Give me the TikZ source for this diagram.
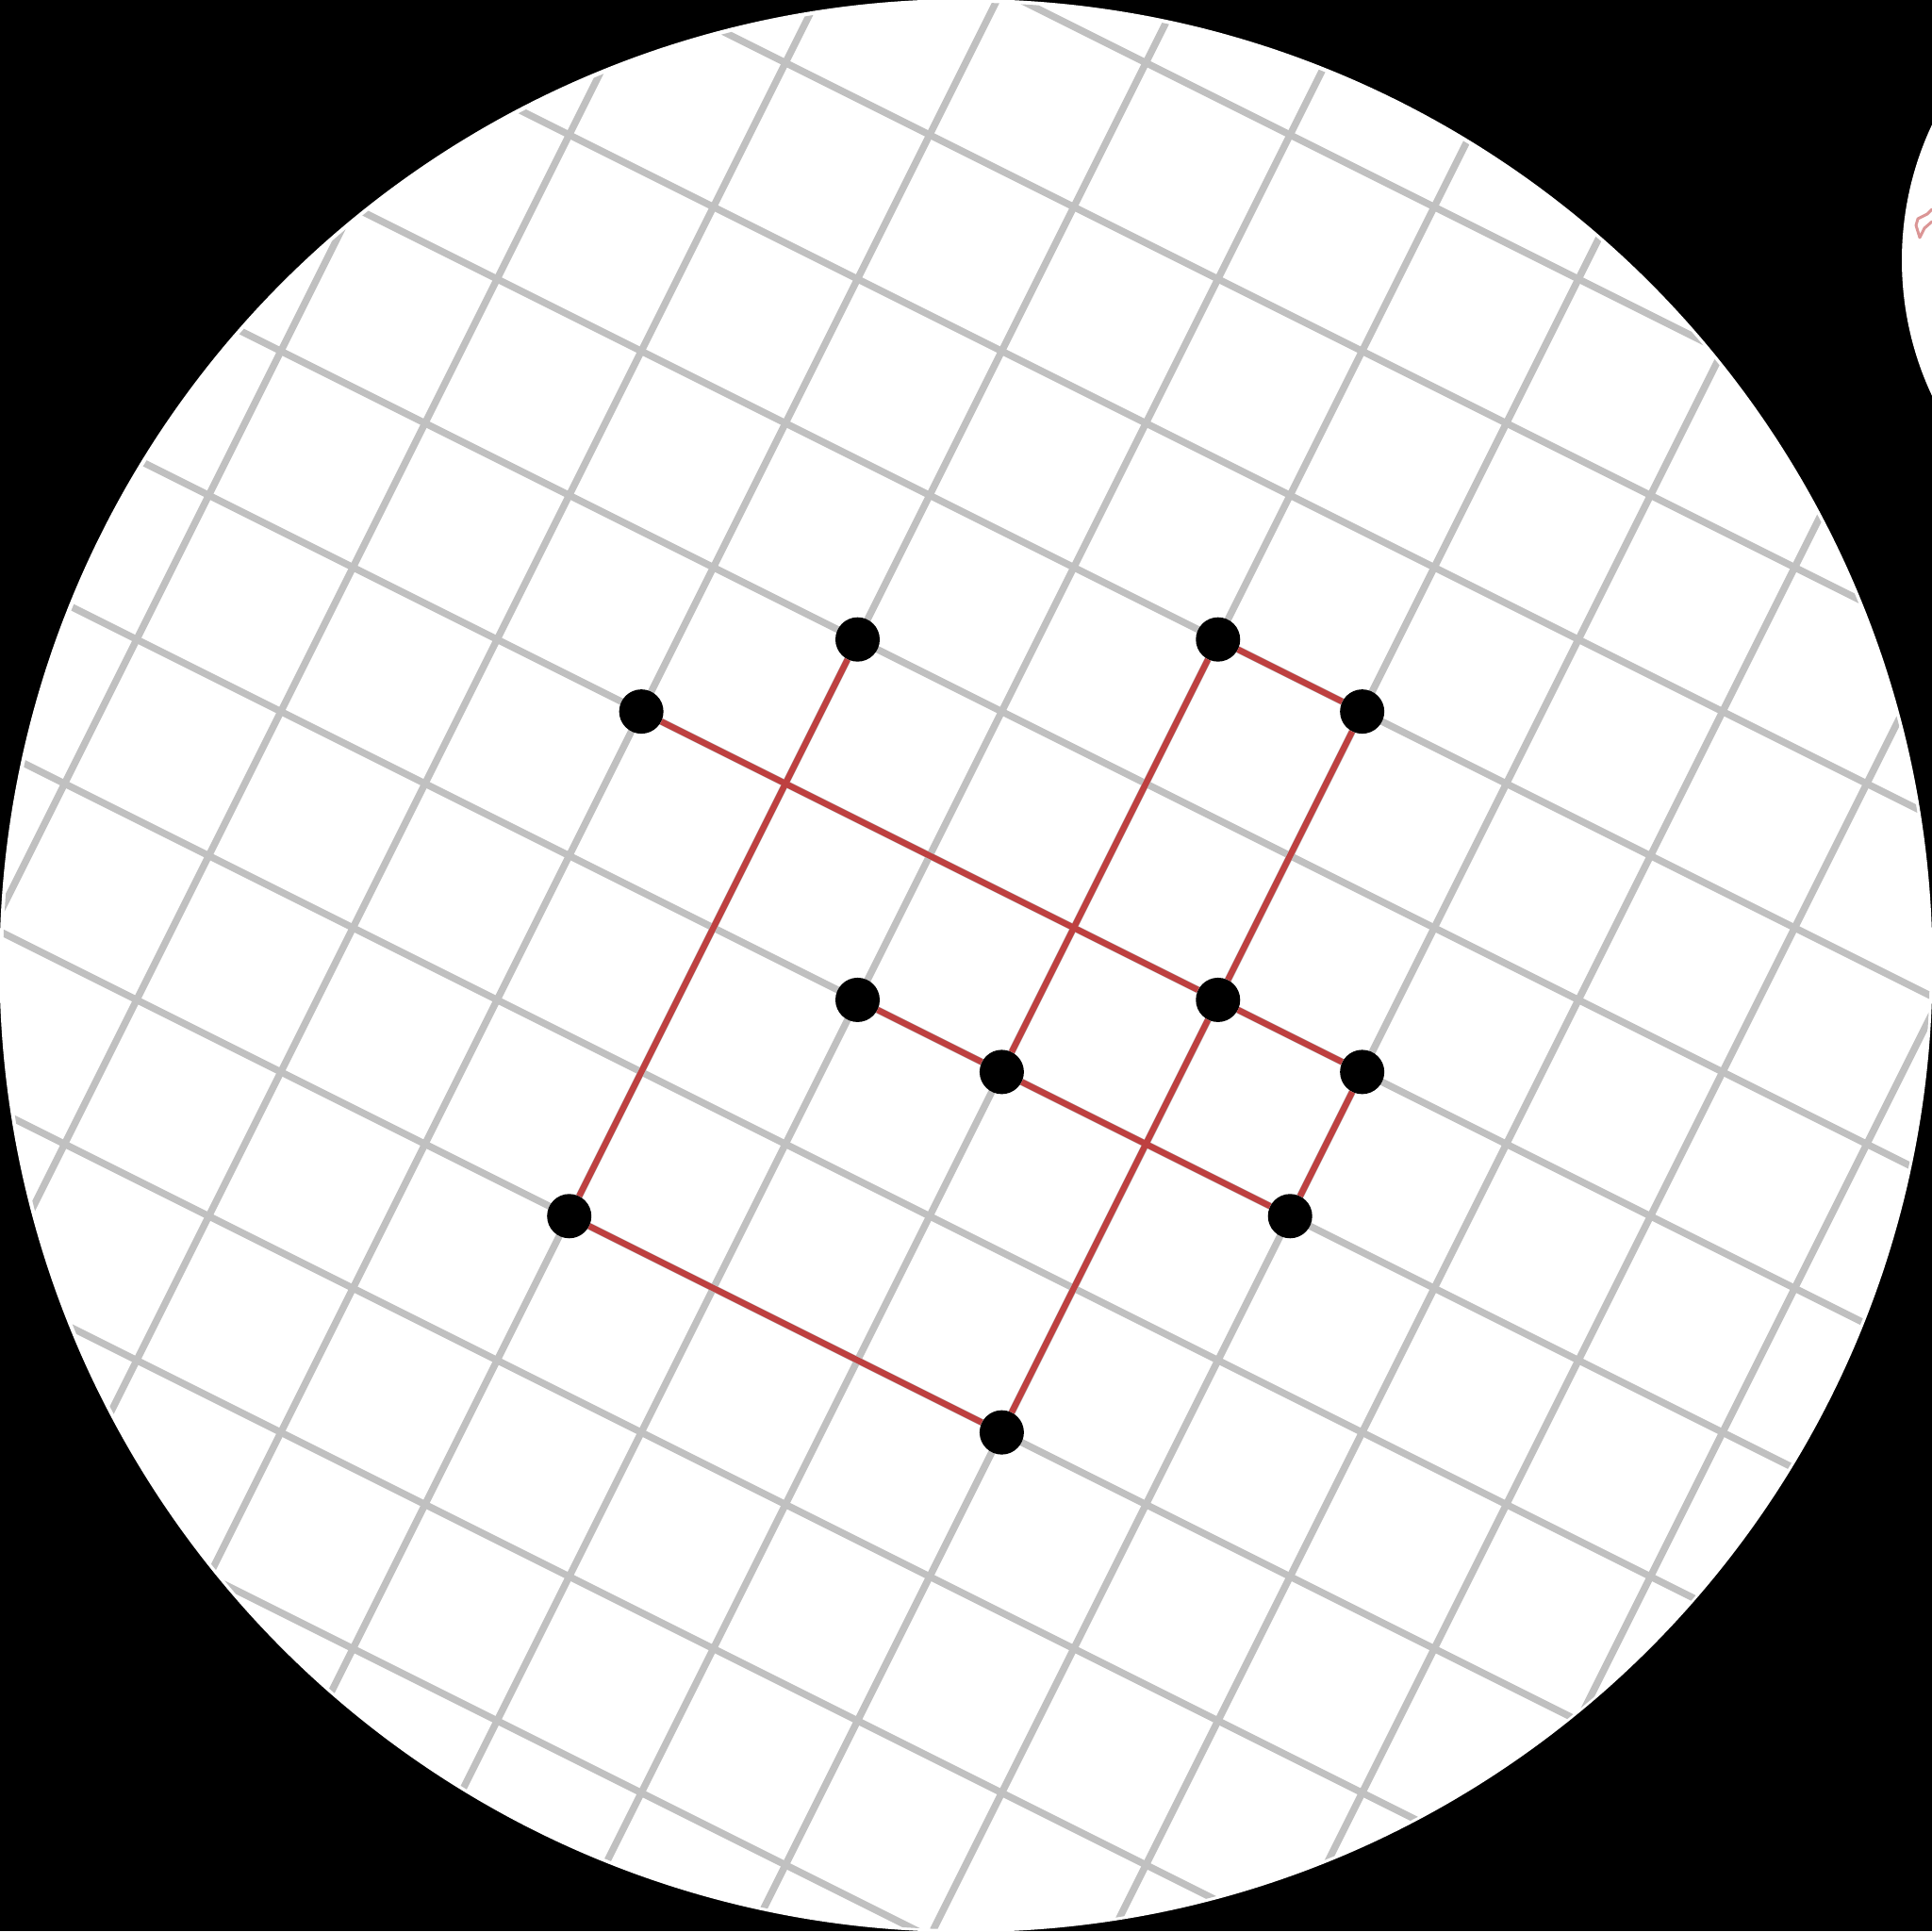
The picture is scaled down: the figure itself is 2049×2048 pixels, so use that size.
\documentclass[tikz,border=0pt]{standalone}
\definecolor{gridgray}{RGB}{192,192,192}
\definecolor{segred}{RGB}{190,64,64}
\begin{document}
\begin{tikzpicture}[
  gridline/.style={draw=gridgray, line width=7.4pt},
  redline/.style={draw=segred, line width=6.5pt},
  dot/.style={circle, fill=black, inner sep=0pt, minimum size=47pt}]
\useasboundingbox (0pt,0pt) rectangle (2049pt,2048pt);
\clip (0pt,0pt) rectangle (2049pt,2048pt);
\fill[black] (0pt,0pt) rectangle (2049pt,2048pt);
% neighbouring disc at the right edge
\fill[white] (2355pt,1772pt) circle[radius=338pt];
\draw[segred, line width=3pt, opacity=0.55, line join=round, line cap=round]
  (2049pt,1826pt) -- (2044pt,1821pt) -- (2034pt,1816pt) -- (2032pt,1809pt) -- (2036pt,1796pt) -- (2041pt,1806pt) -- (2049pt,1813pt);
% main disc
\fill[white] (1024.5pt,1024pt) circle[radius=1025pt];
\begin{scope}[shift={(1062.4pt,911.1pt)}, x={(152.9pt,-76.45pt)}, y={(76.45pt,152.9pt)}]
  \begin{scope}
    \clip (-0.49,0.49) circle[radius=5.975];
    \foreach \k in {-8,...,8} {
      \draw[gridline] (\k,-9) -- (\k,9);
      \draw[gridline] (-9,\k) -- (9,\k);
    }
  \end{scope}
  \node[dot] (A) at (-2,2) {};
  \node[dot] (B) at (0,3) {};
  \node[dot] (C) at (-3,1) {};
  \node[dot] (D) at (1,3) {};
  \node[dot] (E) at (-1,0) {};
  \node[dot] (F) at (1,1) {};
  \node[dot] (G) at (0,0) {};
  \node[dot] (H) at (2,1) {};
  \node[dot] (I) at (-2,-2) {};
  \node[dot] (J) at (2,0) {};
  \node[dot] (K) at (1,-2) {};
  \draw[redline] (A) -- (I);
  \draw[redline] (I) -- (K);
  \draw[redline] (C) -- (F) -- (H);
  \draw[redline] (B) -- (D);
  \draw[redline] (D) -- (F) -- (K);
  \draw[redline] (B) -- (G);
  \draw[redline] (E) -- (G) -- (J);
  \draw[redline] (H) -- (J);
\end{scope}
\end{tikzpicture}
\end{document}
